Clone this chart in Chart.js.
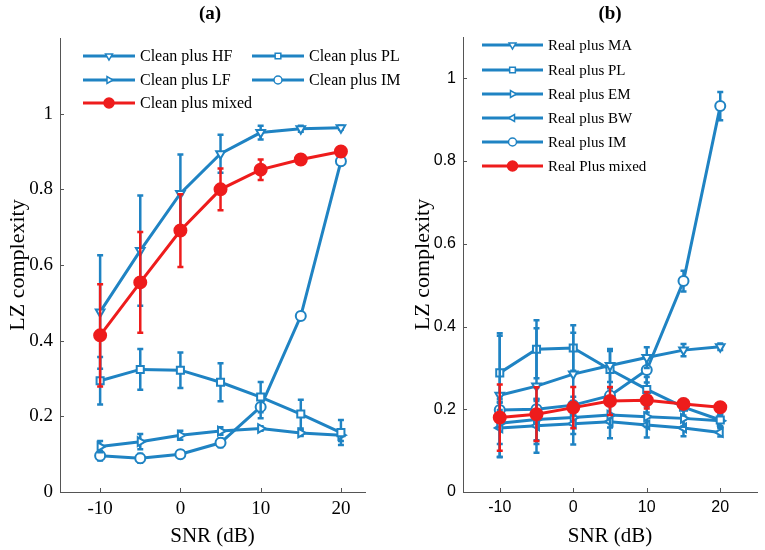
<!DOCTYPE html>
<html>
<head>
<meta charset="utf-8">
<script src="https://cdn.jsdelivr.net/npm/chart.js@4.4.1/dist/chart.umd.min.js"></script>
<style>
  body { margin: 0; background: #fff; }
  #wrap { position: relative; width: 765px; height: 550px; }
  canvas { position: absolute; top: 0; }
  #chartA { left: 0; }
  #chartB { left: 385px; }
</style>
</head>
<body>
<div id="wrap">
  <canvas id="chartA" width="420" height="550"></canvas>
  <canvas id="chartB" width="380" height="550"></canvas>
</div>
<script>
// SNR levels (dB)
const snr = [-10, -5, 0, 5, 10, 15, 20];
const xTicks = [-10, 0, 10, 20];
const yTicks = [0, 0.2, 0.4, 0.6, 0.8, 1];

// (a) clean signal
const cleanHF = [0.476, 0.638, 0.789, 0.894, 0.950, 0.960, 0.963];
const cleanHFErr = [0.150, 0.146, 0.103, 0.050, 0.018, 0.008, 0.005];
const cleanPL = [0.294, 0.324, 0.322, 0.290, 0.251, 0.206, 0.157];
const cleanPLErr = [0.063, 0.054, 0.047, 0.050, 0.040, 0.038, 0.033];
const cleanLF = [0.120, 0.133, 0.150, 0.161, 0.168, 0.156, 0.150];
const cleanLFErr = [0.015, 0.020, 0.012, 0.010, 0.006, 0.008, 0.015];
const cleanIM = [0.096, 0.089, 0.100, 0.130, 0.225, 0.465, 0.874];
const cleanIMErr = [0.013, 0.012, 0.010, 0.012, 0.030, 0.010, 0.010];
const cleanMixed = [0.414, 0.554, 0.691, 0.800, 0.852, 0.879, 0.900];
const cleanMixedErr = [0.135, 0.133, 0.096, 0.055, 0.027, 0.010, 0.005];

// (b) real signal
const realMA = [0.234, 0.256, 0.285, 0.306, 0.325, 0.343, 0.351];
const realMAErr = [0.150, 0.140, 0.100, 0.040, 0.025, 0.015, 0.008];
const realPL = [0.288, 0.345, 0.348, 0.296, 0.248, 0.205, 0.174];
const realPLErr = [0.090, 0.070, 0.055, 0.045, 0.030, 0.020, 0.015];
const realEM = [0.166, 0.175, 0.180, 0.186, 0.182, 0.178, 0.172];
const realEMErr = [0.050, 0.050, 0.040, 0.030, 0.025, 0.020, 0.015];
const realBW = [0.155, 0.160, 0.165, 0.170, 0.162, 0.155, 0.144];
const realBWErr = [0.070, 0.065, 0.050, 0.040, 0.030, 0.020, 0.010];
const realIM = [0.198, 0.200, 0.210, 0.233, 0.295, 0.510, 0.933];
const realIMErr = [0.020, 0.020, 0.020, 0.020, 0.030, 0.025, 0.034];
const realMixed = [0.180, 0.188, 0.204, 0.220, 0.222, 0.213, 0.205];
const realMixedErr = [0.080, 0.065, 0.050, 0.034, 0.020, 0.010, 0.005];

const BLUE = "#1f83c3";
const RED = "#ee1c1c";
const SERIF = "'Liberation Serif', 'Times New Roman', serif";
const SANS = "'Liberation Sans', Arial, sans-serif";

function series(label, values, errors, color, pointStyle, rotation, filled, order) {
  return {
    label: label,
    data: snr.map((x, i) => ({ x: x, y: values[i] })),
    errors: errors,
    borderColor: color,
    backgroundColor: color,
    borderWidth: 3,
    tension: 0,
    pointStyle: pointStyle,
    pointRotation: rotation,
    pointRadius: filled ? 6 : 5,
    pointBackgroundColor: filled ? color : "#fff",
    pointBorderColor: color,
    pointBorderWidth: 2,
    order: order
  };
}

// error bars, drawn just before each dataset so markers sit on top
const errorBarPlugin = {
  id: "errorBars",
  beforeDatasetDraw(chart, args) {
    const ds = chart.data.datasets[args.index];
    if (!ds.errors) return;
    const xs = chart.scales.x, ys = chart.scales.y;
    const ctx = chart.ctx;
    ctx.save();
    ctx.strokeStyle = ds.borderColor;
    ctx.lineWidth = 2.5;
    ds.data.forEach((p, i) => {
      const e = ds.errors[i];
      const px = xs.getPixelForValue(p.x);
      const top = ys.getPixelForValue(p.y + e);
      const bot = ys.getPixelForValue(p.y - e);
      ctx.beginPath();
      ctx.moveTo(px, top); ctx.lineTo(px, bot);
      ctx.moveTo(px - 3, top); ctx.lineTo(px + 3, top);
      ctx.moveTo(px - 3, bot); ctx.lineTo(px + 3, bot);
      ctx.stroke();
    });
    ctx.restore();
  }
};

// inward tick marks, panel title, line+marker legend
const decorPlugin = {
  id: "decor",
  afterDraw(chart, args, opts) {
    const ctx = chart.ctx;
    const xs = chart.scales.x, ys = chart.scales.y;
    const area = chart.chartArea;
    ctx.save();
    ctx.strokeStyle = "#555";
    ctx.lineWidth = 1;
    ctx.beginPath();
    yTicks.forEach(v => {
      const py = Math.round(ys.getPixelForValue(v)) + 0.5;
      ctx.moveTo(area.left, py); ctx.lineTo(area.left + 4, py);
    });
    xTicks.forEach(v => {
      const px = Math.round(xs.getPixelForValue(v)) + 0.5;
      ctx.moveTo(px, area.bottom); ctx.lineTo(px, area.bottom - 4);
    });
    ctx.stroke();

    // panel title
    ctx.fillStyle = "#000";
    ctx.font = "bold 19px " + SERIF;
    ctx.textAlign = "center";
    ctx.textBaseline = "middle";
    ctx.fillText(opts.title, opts.titleX, opts.titleY);

    // legend
    ctx.font = opts.legendFont;
    ctx.textAlign = "left";
    opts.items.forEach(it => {
      const ds = chart.data.datasets[it.index];
      ctx.strokeStyle = ds.borderColor;
      ctx.lineWidth = 3;
      ctx.beginPath();
      ctx.moveTo(it.x, it.y);
      ctx.lineTo(it.x + opts.lineLen, it.y);
      ctx.stroke();
      ctx.fillStyle = ds.pointBackgroundColor;
      ctx.lineWidth = 1.5;
      Chart.helpers.drawPoint(ctx, {
        pointStyle: ds.pointStyle,
        rotation: ds.pointRotation,
        radius: ds.pointRadius - 1,
        borderWidth: 1.5
      }, it.x + opts.lineLen / 2, it.y);
      ctx.fillStyle = "#000";
      ctx.fillText(ds.label, it.x + opts.lineLen + 5, it.y + 1);
    });
    ctx.restore();
  }
};

function makeChart(id, datasets, p) {
  const ctx = document.getElementById(id).getContext("2d");
  return new Chart(ctx, {
    type: "line",
    data: { datasets: datasets },
    plugins: [errorBarPlugin, decorPlugin],
    options: {
      responsive: false,
      animation: false,
      layout: { padding: { top: p.top, right: p.right, left: 0, bottom: 0 } },
      plugins: {
        legend: { display: false },
        tooltip: { enabled: false },
        decor: p.decor
      },
      scales: {
        x: {
          type: "linear",
          min: -15,
          max: p.xMax,
          afterBuildTicks: s => { s.ticks = xTicks.map(v => ({ value: v })); },
          afterFit: s => { s.height = 58; },
          grid: { display: false, drawTicks: false },
          border: { display: true, color: "#555", width: 1 },
          ticks: { color: "#000", padding: 6, font: { family: p.tickFamily, size: p.tickSize } },
          title: { display: true, text: "SNR (dB)", color: "#000", padding: { top: 0, bottom: 1 },
                   font: { family: SERIF, size: 21 } }
        },
        y: {
          type: "linear",
          min: 0,
          max: p.yMax,
          afterBuildTicks: s => { s.ticks = yTicks.map(v => ({ value: v })); },
          afterFit: s => { s.width = p.yWidth; },
          grid: { display: false, drawTicks: false },
          border: { display: true, color: "#555", width: 1 },
          ticks: { color: "#000", padding: 7, font: { family: p.tickFamily, size: p.tickSize },
                   callback: v => String(v) },
          title: { display: true, text: "LZ complexity", color: "#000", padding: { top: p.yTitlePad, bottom: 0 },
                   font: { family: SERIF, size: 22 } }
        }
      }
    }
  });
}

makeChart("chartA", [
  series("Clean plus mixed", cleanMixed, cleanMixedErr, RED, "circle", 0, true, 0),
  series("Clean plus HF", cleanHF, cleanHFErr, BLUE, "triangle", 180, false, 1),
  series("Clean plus PL", cleanPL, cleanPLErr, BLUE, "rect", 0, false, 2),
  series("Clean plus LF", cleanLF, cleanLFErr, BLUE, "triangle", 90, false, 3),
  series("Clean plus IM", cleanIM, cleanIMErr, BLUE, "circle", 0, false, 4)
], {
  top: 38, right: 55, xMax: 23, yMax: 1.2, yWidth: 60, yTitlePad: 5,
  tickFamily: SERIF, tickSize: 19,
  decor: {
    title: "(a)", titleX: 210, titleY: 14,
    legendFont: "16px " + SERIF, lineLen: 52,
    items: [
      { index: 1, x: 83, y: 56 },
      { index: 2, x: 252, y: 56 },
      { index: 3, x: 83, y: 80 },
      { index: 4, x: 252, y: 80 },
      { index: 0, x: 83, y: 103 }
    ]
  }
});

makeChart("chartB", [
  series("Real Plus mixed", realMixed, realMixedErr, RED, "circle", 0, true, 0),
  series("Real plus MA", realMA, realMAErr, BLUE, "triangle", 180, false, 1),
  series("Real plus PL", realPL, realPLErr, BLUE, "rect", 0, false, 2),
  series("Real plus EM", realEM, realEMErr, BLUE, "triangle", 90, false, 3),
  series("Real plus BW", realBW, realBWErr, BLUE, "triangle", -90, false, 4),
  series("Real plus IM", realIM, realIMErr, BLUE, "circle", 0, false, 5)
], {
  top: 37, right: 2, xMax: 25, yMax: 1.1, yWidth: 78, yTitlePad: 25,
  tickFamily: SANS, tickSize: 16,
  decor: {
    title: "(b)", titleX: 225, titleY: 14,
    legendFont: "15px " + SERIF, lineLen: 61,
    items: [
      { index: 1, x: 97, y: 45 },
      { index: 2, x: 97, y: 70 },
      { index: 3, x: 97, y: 94 },
      { index: 4, x: 97, y: 118 },
      { index: 5, x: 97, y: 142 },
      { index: 0, x: 97, y: 166 }
    ]
  }
});
</script>
</body>
</html>
